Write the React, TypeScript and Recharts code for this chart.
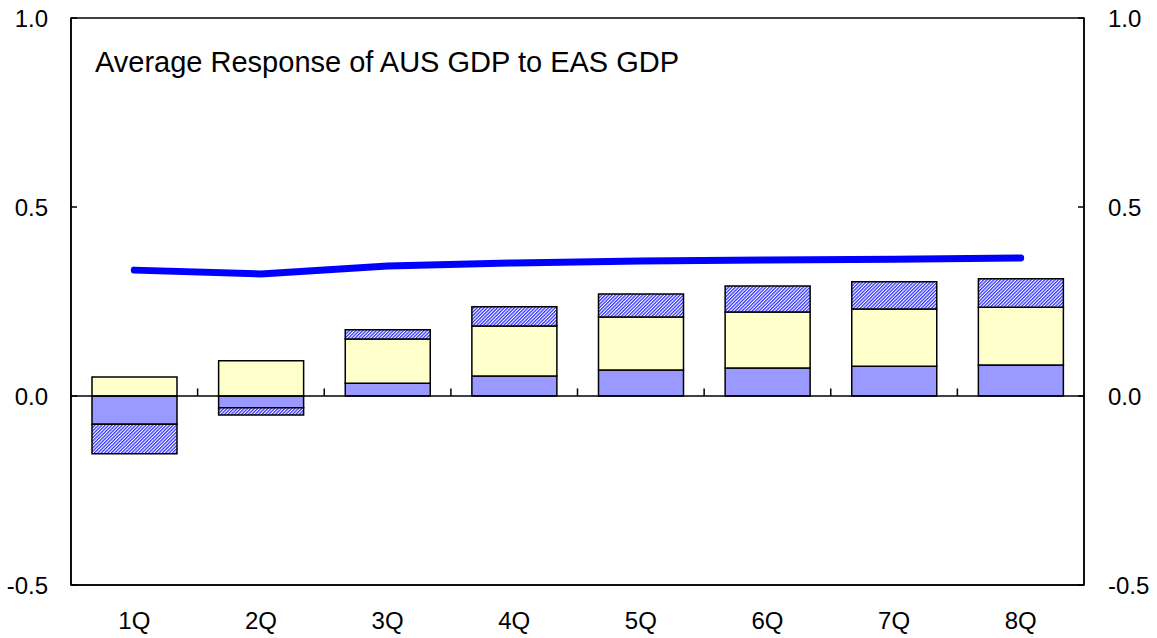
import {
  Bar,
  ComposedChart,
  Line,
  ReferenceArea,
  ReferenceLine,
  XAxis,
  YAxis,
} from "recharts";

const quarters = ["1Q", "2Q", "3Q", "4Q", "5Q", "6Q", "7Q", "8Q"];
const blueSeries = [-0.075, -0.031, 0.034, 0.053, 0.069, 0.074, 0.079, 0.082];
const yellowSeries = [0.05, 0.093, 0.117, 0.132, 0.14, 0.148, 0.151, 0.153];
const hatchSeries = [-0.078, -0.019, 0.024, 0.051, 0.061, 0.069, 0.072, 0.075];
const totalLine = [0.333, 0.323, 0.344, 0.352, 0.357, 0.36, 0.362, 0.365];
const yTicks = [-0.5, 0, 0.5, 1];
const xPositions = [0.5, 1.5, 2.5, 3.5, 4.5, 5.5, 6.5, 7.5];
const boundaries = [1, 2, 3, 4, 5, 6, 7];

const data = quarters.map((q, i) => ({
  pos: xPositions[i],
  label: q,
  blue: blueSeries[i],
  yellow: yellowSeries[i],
  hatch: hatchSeries[i],
  total: totalLine[i],
}));

const font = "'Liberation Sans', Arial, sans-serif";
const tickStyle = { fontSize: 24, fill: "#000", fontFamily: font };

export default function App() {
  return (
    <div style={{ position: "absolute", left: 0, top: 0, width: 1157, height: 638, background: "#fff" }}>
      <ComposedChart
        width={1157}
        height={638}
        data={data}
        stackOffset="sign"
        margin={{ top: 18, right: 0, bottom: 0, left: 0 }}
      >
        <defs>
          <pattern id="hatch" width="2.4" height="2.4" patternUnits="userSpaceOnUse" patternTransform="rotate(45)">
            <rect width="2.4" height="2.4" fill="#ffffff" />
            <rect width="1.3" height="2.4" fill="#3333ff" />
          </pattern>
        </defs>
        <XAxis
          dataKey="pos"
          type="number"
          domain={[0, 8]}
          ticks={xPositions}
          tickFormatter={(v: number) => quarters[Math.floor(v)]}
          axisLine={{ stroke: "#000", strokeWidth: 1.5 }}
          tickLine={false}
          tickSize={0}
          tickMargin={27}
          height={53}
          tick={tickStyle}
          interval={0}
        />
        <YAxis
          yAxisId="left"
          domain={[-0.5, 1]}
          ticks={yTicks}
          tickFormatter={(v: number) => v.toFixed(1)}
          width={71}
          axisLine={{ stroke: "#000", strokeWidth: 1.5 }}
          tickLine={{ stroke: "#000", strokeWidth: 1.5 }}
          tickSize={-6}
          tickMargin={29}
          tick={tickStyle}
          allowDataOverflow
        />
        <YAxis
          yAxisId="right"
          orientation="right"
          domain={[-0.5, 1]}
          ticks={yTicks}
          tickFormatter={(v: number) => v.toFixed(1)}
          width={73}
          axisLine={{ stroke: "#000", strokeWidth: 1.5 }}
          tickLine={{ stroke: "#000", strokeWidth: 1.5 }}
          tickSize={-6}
          tickMargin={30}
          tick={tickStyle}
          allowDataOverflow
        />
        <ReferenceArea
          yAxisId="left"
          x1={0}
          x2={8}
          y1={-0.5}
          y2={1}
          fill="none"
          fillOpacity={0}
          stroke="#000"
          strokeWidth={1.5}
        />
        <Bar yAxisId="left" dataKey="blue" stackId="s" fill="#9999ff" stroke="#000" strokeWidth={1.5} barSize={85} isAnimationActive={false} />
        <Bar yAxisId="left" dataKey="yellow" stackId="s" fill="#ffffcc" stroke="#000" strokeWidth={1.5} barSize={85} isAnimationActive={false} />
        <Bar yAxisId="left" dataKey="hatch" stackId="s" fill="url(#hatch)" stroke="#000" strokeWidth={1.5} barSize={85} isAnimationActive={false} />
        <ReferenceLine yAxisId="left" y={0} stroke="#000" strokeWidth={1.5} />
        {boundaries.map((b) => (
          <ReferenceLine
            key={b}
            yAxisId="left"
            segment={[
              { x: b, y: 0 },
              { x: b, y: 0.02 },
            ]}
            stroke="#000"
            strokeWidth={1.5}
          />
        ))}
        <Line
          yAxisId="left"
          dataKey="total"
          type="linear"
          stroke="#0000ff"
          strokeWidth={7}
          strokeLinecap="round"
          dot={false}
          activeDot={false}
          isAnimationActive={false}
        />
      </ComposedChart>
      <div
        style={{
          position: "absolute",
          left: 95,
          top: 46,
          fontFamily: font,
          fontSize: 29,
          color: "#000",
          whiteSpace: "nowrap",
        }}
      >
        Average Response of AUS GDP to EAS GDP
      </div>
    </div>
  );
}
